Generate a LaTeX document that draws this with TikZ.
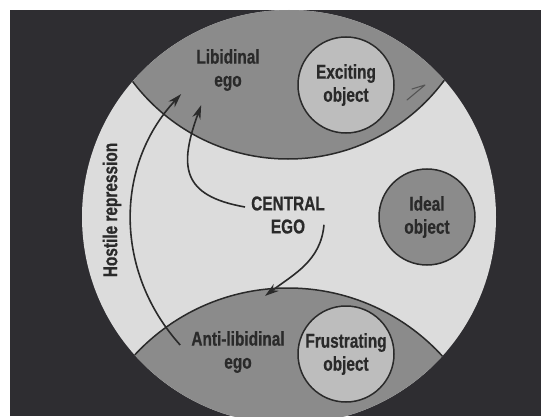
\documentclass[tikz,border=0pt]{standalone}
\usepackage{fontspec,xcolor,tikz}
\usetikzlibrary{arrows.meta}
\newfontfamily\egofont{Liberation Sans}[UprightFont={* Bold},FakeStretch=0.77,FakeBold=0.6]
\definecolor{nacht}{HTML}{2E2D31}
\definecolor{hell}{HTML}{DCDCDC}
\definecolor{mittel}{HTML}{8B8B8B}
\definecolor{blass}{HTML}{BDBDBD}
\definecolor{ink}{HTML}{2A2A2A}
\newcommand{\egotype}{\egofont\fontsize{20}{23}\selectfont}

\begin{document}
\begin{tikzpicture}[x=1pt,y=1pt,
  egotext/.style={inner sep=0,align=center,font=\egotype,text=ink},
  objekt/.style={circle,draw=ink,line width=1.5pt,minimum size=96pt,inner sep=0,align=center,font=\egotype,text=ink},
  bahn/.style={ink,line width=1.6pt,-{Stealth[length=14pt,width=8.5pt]}},
  grenze/.style={draw=ink,line width=1.5pt}]
\useasboundingbox (0,0) rectangle (541,416);
\fill[white] (0,0) rectangle (541,416);
\fill[nacht] (10,0) rectangle (541,406);
\begin{scope}
\clip (10,0) rectangle (541,406);
\fill[hell] (289,199) circle[radius=207];
\clip (289,199) circle[radius=207];
\fill[mittel] (288,451.5) circle[radius=194.5];
\fill[mittel] (288,-81) circle[radius=209];
\draw[grenze] (288,451.5) circle[radius=194.5];
\draw[grenze] (288,-81) circle[radius=209];
\end{scope}
\node[objekt,fill=blass] (exciting) at (346,331) {Exciting\\object};
\node[objekt,fill=mittel] (ideal) at (427,199) {Ideal\\object};
\node[objekt,fill=blass] (frustrating) at (346,62) {Frustrating\\object};
\node[egotext] (libidinal) at (228,346) {Libidinal\\ego};
\node[egotext] (central) at (288,201) {CENTRAL\\EGO};
\node[egotext] (antilib) at (238,64) {Anti-libidinal\\ego};
\node[egotext,rotate=90] (hostile) at (112,206) {Hostile repression};
\draw[bahn] ([shift={(-11,7)}]antilib.west) to[out=132,in=227] ([shift={(-15,-3)}]libidinal.south west);
\draw[bahn] ([shift={(-6,8)}]central.west) to[out=170,in=250,looseness=1.5] ([shift={(5,-14)}]libidinal.south west);
\draw[bahn] ([shift={(-1,9)}]central.south east) to[out=-95,in=37] ([shift={(27,35)}]antilib.north);
\draw[ink!80,line width=1.1pt,line cap=round,line join=round] (412,327) -- (425,331) -- (407,316);
\end{tikzpicture}
\end{document}
